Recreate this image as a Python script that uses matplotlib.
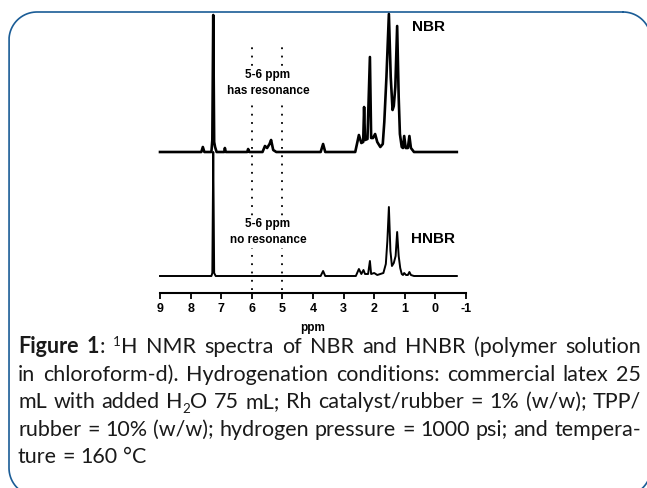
import numpy as np
import matplotlib
matplotlib.use('Agg')
import matplotlib.pyplot as plt

plt.rcParams['savefig.bbox'] = 'standard'

W, H, DPI = 647, 488, 100

# ---------------- data (ppm, intensity above each baseline) ----------------
nbr_ppm = [9.0, 7.65, 7.6, 7.55, 7.32, 7.29, 7.26, 7.23, 7.2, 7.15, 6.9, 6.88, 6.85,
           6.15, 6.12, 6.08, 5.65, 5.57, 5.5, 5.42, 5.37, 5.3, 5.2, 3.75, 3.67, 3.6,
           2.62, 2.5, 2.42, 2.36, 2.33, 2.30, 2.22, 2.14, 2.10, 2.04, 1.97, 1.90, 1.8,
           1.72, 1.67, 1.60, 1.52, 1.46, 1.40, 1.36, 1.31, 1.25, 1.20, 1.16, 1.10, 1.06,
           1.02, 0.97, 0.90, 0.85, 0.80, 0.70, -0.7]
nbr_int = [0, 0, 5, 0, 0, 12, 137, 10, 5, 0, 0, 4, 0,
           0, 3, 0, 0, 6, 4, 8, 12, 2, 0, 0, 8, 0,
           0, 17, 9, 10, 45, 12, 13, 95, 14, 14, 18, 10, 5,
           8, 30, 75, 138, 75, 42, 46, 65, 126, 55, 18, 5, 4,
           16, 4, 4, 16, 4, 0, 0]

hnbr_ppm = [9.0, 7.32, 7.29, 7.26, 7.23, 7.18, 3.75, 3.67, 3.6, 2.6, 2.5, 2.42, 2.35,
            2.3, 2.2, 2.14, 2.1, 2.0, 1.9, 1.7, 1.62, 1.57, 1.52, 1.47, 1.42, 1.36,
            1.30, 1.25, 1.20, 1.15, 1.10, 1.06, 1.02, 0.96, 0.9, 0.85, 0.8, 0.7, -0.7]
hnbr_int = [0, 0, 3, 124, 3, 0, 0, 5, 0, 0, 7, 2, 6,
            2, 2, 15, 2, 3, 1, 3, 12, 35, 69, 25, 10, 13,
            20, 44, 20, 8, 2, 1, 3, 1, 1, 4, 1, 0, 0]

xticks = [9, 8, 7, 6, 5, 4, 3, 2, 1, 0, -1]
xtick_labels = ['9', '8', '7', '6', '5', '4', '3', '2', '1', '0', '-1']
region_ppm = [6, 5]

NBR_BASE = 141
HNBR_BASE = 17

CHART_FONT = ['Liberation Sans Narrow', 'Liberation Sans', 'DejaVu Sans']
CAP_FONT = ['Lato', 'DejaVu Sans']
TXT = '#1a1a1a'

fig = plt.figure(figsize=(W / DPI, H / DPI), dpi=DPI)

# ---------------- background axes in pixel units (rounded frame) ----------------
bg = fig.add_axes([0, 0, 1, 1])
bg.set_xlim(0, W)
bg.set_ylim(H, 0)
bg.axis('off')
FX0, FX1, FY0, FY1, R = 9, 651, 12, 496, 28
corners = [((FX1 - R, FY0 + R), -90, 0), ((FX1 - R, FY1 - R), 0, 90),
           ((FX0 + R, FY1 - R), 90, 180), ((FX0 + R, FY0 + R), 180, 270)]
fx, fy = [], []
for (cx, cy), a0, a1 in corners:
    ang = np.deg2rad(np.linspace(a0, a1, 40))
    fx.extend(cx + R * np.cos(ang))
    fy.extend(cy + R * np.sin(ang))
fx.append(fx[0]); fy.append(fy[0])
bg.plot(fx, fy, color='#1a5c96', lw=1.2, solid_joinstyle='round')

# ---------------- spectrum axes ----------------
ax = fig.add_axes([160 / W, (H - 293) / H, 306 / W, (293 - 10) / H])
ax.set_xlim(9, -1)
ax.set_ylim(0, 283)
ax.plot(nbr_ppm, np.array(nbr_int) + NBR_BASE, color='black', lw=1.9,
        solid_joinstyle='round', clip_on=False)
ax.plot(hnbr_ppm, np.array(hnbr_int) + HNBR_BASE, color='black', lw=1.4,
        solid_joinstyle='round', clip_on=False)
for xv in region_ppm:
    ax.plot([xv, xv], [3, 251], color='black', lw=1.3, ls=(0, (1, 3.6)), clip_on=False, zorder=1)

for s in ['left', 'right', 'top']:
    ax.spines[s].set_visible(False)
ax.spines['bottom'].set_linewidth(1.5)
ax.set_yticks([])
ax.set_xticks(xticks, xtick_labels)
ax.tick_params(axis='x', direction='out', length=4, width=1.3, pad=3, labelsize=9)
for lab in ax.get_xticklabels():
    lab.set_fontweight('bold')
    lab.set_family(CHART_FONT)
ax.patch.set_alpha(0)

kw = dict(ha='center', va='center', fontweight='bold', family=CHART_FONT, color='black')
ax.text(5.47, 210, '5-6 ppm\nhas resonance', fontsize=8.5, linespacing=1.35,
        bbox=dict(fc='white', ec='none', pad=2), zorder=3, **kw)
ax.text(5.47, 61, '5-6 ppm\nno resonance', fontsize=8.5, linespacing=1.35,
        bbox=dict(fc='white', ec='none', pad=2), zorder=3, **kw)
ax.text(0.24, 266, 'NBR', fontsize=11, **kw)
ax.text(0.08, 54, 'HNBR', fontsize=11, **kw)
fig.text(313 / W, 1 - 328 / H, 'ppm', fontsize=8.5, **kw)

# ---------------- caption (justified) ----------------
cap_lines = [
    "*Figure* *1*: ^1^H NMR spectra of NBR and HNBR (polymer solution",
    "in chloroform-d). Hydrogenation conditions: commercial latex 25",
    "mL with added H_2_O 75 mL; Rh catalyst/rubber = 1% (w/w); TPP/",
    "rubber = 10% (w/w); hydrogen pressure = 1000 psi; and tempera-",
    "ture = 160 °C",
]
baselines = [353, 381, 408, 436, 463]
X0, X1 = 18, 641

renderer = fig.canvas.get_renderer()
probe = fig.text(0, 0, cap_lines[1], fontsize=10, family=CAP_FONT)
CAP_FS = 10 * 612 / probe.get_window_extent(renderer=renderer).width
probe.remove()


def parse(word):
    segs, mode, buf = [], 'n', ''
    for ch in word:
        if ch in '*^_':
            if buf:
                segs.append((buf, mode))
                buf = ''
            m = {'*': 'b', '^': 'sup', '_': 'sub'}[ch]
            mode = 'n' if mode == m else m
        else:
            buf += ch
    if buf:
        segs.append((buf, mode))
    return segs


sp = fig.text(0, 0, 'a a', fontsize=CAP_FS, family=CAP_FONT)
sp2 = fig.text(0, 0, 'aa', fontsize=CAP_FS, family=CAP_FONT)
SPACE = sp.get_window_extent(renderer=renderer).width - sp2.get_window_extent(renderer=renderer).width
sp.remove(); sp2.remove()

for li, (line, yb) in enumerate(zip(cap_lines, baselines)):
    words = [parse(w) for w in line.split(' ')]
    placed = []
    for w in words:
        parts = []
        for s, mode in w:
            fs = CAP_FS * (0.62 if mode in ('sup', 'sub') else 1)
            dy = {'sup': -7, 'sub': 5}.get(mode, 0)
            t = fig.text(0, 1 - (yb + dy) / H, s, fontsize=fs, family=CAP_FONT,
                         fontweight='bold' if mode == 'b' else 'normal',
                         va='baseline', ha='left', color=TXT)
            parts.append(t)
        placed.append(parts)
    widths = [[p.get_window_extent(renderer=renderer).width for p in parts] for parts in placed]
    total = sum(sum(w) for w in widths)
    last = li == len(cap_lines) - 1
    gap = SPACE if last else (X1 - X0 - total) / (len(placed) - 1)
    x = X0
    for parts, ws in zip(placed, widths):
        for p, wdt in zip(parts, ws):
            p.set_x(x / W)
            x += wdt
        x += gap

fig.savefig('out.png', dpi=DPI, bbox_inches=None)
